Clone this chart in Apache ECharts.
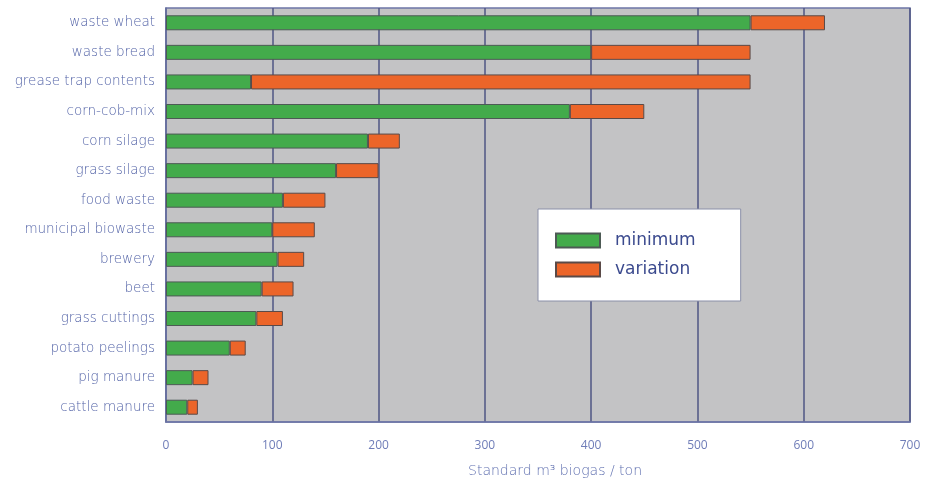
<!DOCTYPE html>
<html>
<head>
<meta charset="utf-8">
<script src="https://cdn.jsdelivr.net/npm/echarts@6/dist/echarts.min.js"></script>
<style>html,body{margin:0;padding:0;background:#fff;}#c{width:930px;height:486px;}</style>
</head>
<body>
<div id="c"></div>
<script>
var categories = ["waste wheat","waste bread","grease trap contents","corn-cob-mix","corn silage","grass silage","food waste","municipal biowaste","brewery","beet","grass cuttings","potato peelings","pig manure","cattle manure"];
var minimum = [550, 400, 80, 380, 190, 160, 110, 100, 105, 90, 85, 60, 25, 20];
var variation = [70, 150, 470, 70, 30, 40, 40, 40, 25, 30, 25, 15, 15, 10];
var xTicks = [0, 100, 200, 300, 400, 500, 600, 700];

var chart = echarts.init(document.getElementById('c'));
var font = 'DejaVu Sans';
chart.setOption({
  animation: false,
  grid: {left: 166, right: 20, top: 8, bottom: 64, show: true, backgroundColor: '#c3c3c5', borderColor: '#6d76a6', borderWidth: 1.5},
  legend: {
    orient: 'vertical', left: 538, top: 209,
    data: ['minimum', 'variation'],
    itemWidth: 44, itemHeight: 14, itemGap: 12,
    backgroundColor: '#ffffff', borderColor: '#8a8fa8', borderWidth: 1,
    padding: [23, 45, 23, 17],
    icon: 'rect',
    textStyle: {fontFamily: font, fontSize: 17, color: '#3b4a8e', padding: [0, 0, 0, 10]}
  },
  xAxis: {
    type: 'value', min: 0, max: 700, interval: 100,
    name: 'Standard m³ biogas / ton', nameLocation: 'middle', nameGap: 42,
    nameTextStyle: {fontFamily: font, fontSize: 14, fontWeight: 200, color: '#6070b0', padding: [0, 0, 0, 34]},
    axisLine: {show: true, lineStyle: {color: '#6d76a6', width: 1.5}},
    axisTick: {show: false},
    axisLabel: {fontFamily: 'Open Sans', fontSize: 12, color: '#6f7db8', margin: 18,
      formatter: function (v) { return xTicks.indexOf(v) >= 0 ? String(v) : ''; }},
    splitLine: {show: true, lineStyle: {color: '#4f5683', width: 1.5}}
  },
  yAxis: {
    type: 'category', data: categories, inverse: true,
    axisLine: {show: true, lineStyle: {color: '#6d76a6', width: 1.5}},
    axisTick: {show: false},
    axisLabel: {fontFamily: font, fontSize: 13.5, fontWeight: 200, color: '#5565a8', margin: 11},
    splitLine: {show: false}
  },
  series: [
    {name: 'minimum', type: 'bar', stack: 't', data: minimum, barWidth: 15,
      itemStyle: {color: '#43ab4b', borderColor: '#4d5a55', borderWidth: 1}},
    {name: 'variation', type: 'bar', stack: 't', data: variation, barWidth: 15,
      itemStyle: {color: '#ec6529', borderColor: '#5a4a48', borderWidth: 1}}
  ]
});
</script>
</body>
</html>
